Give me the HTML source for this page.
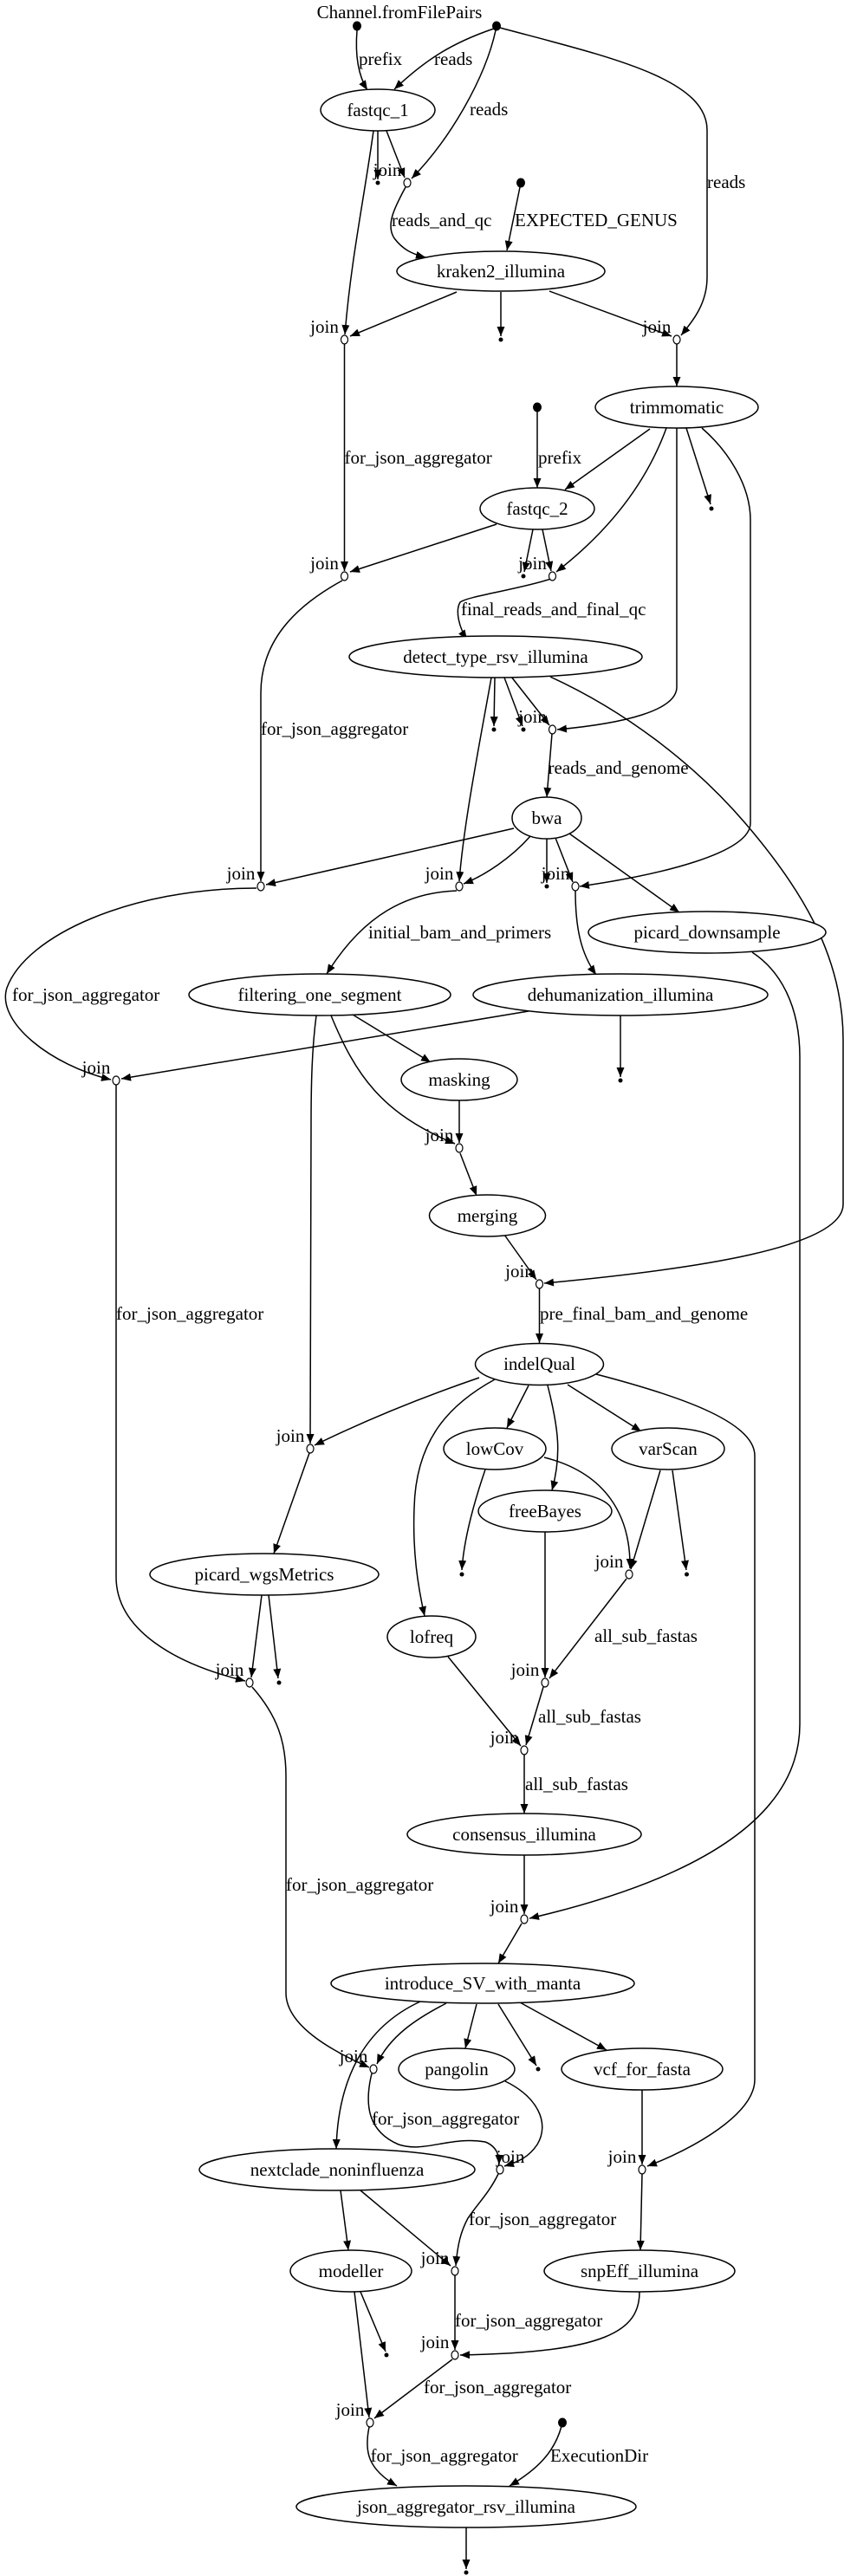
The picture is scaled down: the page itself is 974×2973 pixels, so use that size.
<!DOCTYPE html>
<html><head><meta charset="utf-8"><style>
html,body{margin:0;padding:0;background:#fff;}
svg{display:block;}
text{font-family:"Liberation Serif",serif;font-size:21px;fill:#000;}
.e{fill:none;stroke:#000;stroke-width:1.5;}
.n{fill:#fff;stroke:#000;stroke-width:1.5;}
.j{fill:#fff;stroke:#000;stroke-width:1.2;}
</style></head><body>
<svg width="974" height="2973" viewBox="0 0 974 2973" xmlns="http://www.w3.org/2000/svg">
<defs><marker id="a" markerWidth="12" markerHeight="10" refX="11" refY="5" orient="auto" markerUnits="userSpaceOnUse"><path d="M0,0.5 L11,5 L0,9.5 z" fill="#000"/></marker></defs>
<g class="e" marker-end="url(#a)">
<path d="M412,35 C410,60 412,85 424,104"/>
<path d="M570,33 C520,50 490,70 455,103"/>
<path d="M572,35 C560,90 520,160 475,206"/>
<path d="M577,32 C700,65 816,90 816,150 L816,320 C816,350 800,370 786,387"/>
<path d="M436,151 L436,207"/>
<path d="M446,151 L467,205"/>
<path d="M431,151 C420,230 405,300 398,386"/>
<path d="M468,216 C455,240 445,260 455,275 C465,288 475,293 491,297"/>
<path d="M600,216 L585,289"/>
<path d="M527,337 L404,388"/>
<path d="M578,337 L578,388"/>
<path d="M634,336 L775,388"/>
<path d="M781,397 L781,446"/>
<path d="M620,475 L620,563"/>
<path d="M750,495 L652,565"/>
<path d="M792,494 L820,582"/>
<path d="M769,494 C745,560 700,615 642,660"/>
<path d="M781,494 L781,793 C781,820 720,835 643,842"/>
<path d="M810,494 C840,520 866,560 866,600 L866,950 C866,985 760,1010 669,1023"/>
<path d="M573,605 L404,660"/>
<path d="M615,611 L605,660"/>
<path d="M626,611 L636,659"/>
<path d="M636,668 C600,680 540,688 531,695 C525,705 530,725 539,738"/>
<path d="M397.5,397 L397.5,659"/>
<path d="M395,670 C340,700 301,740 301,800 L301,1017"/>
<path d="M571,782 L570,838"/>
<path d="M582,782 L603,838"/>
<path d="M590,781 L634,837"/>
<path d="M567,782 C555,850 535,950 530,1017"/>
<path d="M635,781 C720,820 800,880 860,950 C920,1020 973,1100 973,1200 L973,1390 C973,1440 800,1465 628,1481"/>
<path d="M637,847 L631,920"/>
<path d="M593,956 L307,1021"/>
<path d="M612,965 C590,990 560,1010 535,1020"/>
<path d="M631,968 L631,1019"/>
<path d="M641,967 L661,1018"/>
<path d="M657,962 L784,1053"/>
<path d="M527,1028 C470,1030 420,1055 377,1124"/>
<path d="M664,1028 C664,1070 670,1100 688,1125"/>
<path d="M296,1025 C150,1025 30,1080 8,1140 C-5,1180 60,1230 128,1246"/>
<path d="M610,1167 L140,1245"/>
<path d="M716,1172 L716,1243"/>
<path d="M407,1171 L497,1226"/>
<path d="M382,1172 C410,1240 440,1285 525,1320"/>
<path d="M530,1270 L530,1319"/>
<path d="M365,1172 C360,1210 359,1250 359,1300 L358,1666"/>
<path d="M531,1331 L550,1380"/>
<path d="M582,1425 L619,1477"/>
<path d="M868,1099 C900,1120 923,1160 923,1220 L923,1990 C923,2100 800,2170 611,2214"/>
<path d="M622.5,1487 L622.5,1550"/>
<path d="M134,1252 L134,1820 C134,1880 200,1920 283,1940"/>
<path d="M553,1590 C480,1615 420,1640 363,1668"/>
<path d="M610,1599 L585,1648"/>
<path d="M632,1599 C645,1650 648,1680 637,1720"/>
<path d="M655,1598 L740,1652"/>
<path d="M571,1592 C520,1620 480,1660 478,1740 C476,1790 482,1830 490,1865"/>
<path d="M688,1586 C780,1610 871,1640 871,1680 L871,2400 C871,2440 800,2480 747,2500"/>
<path d="M560,1696 C545,1740 535,1780 533,1812"/>
<path d="M628,1682 C700,1700 728,1750 727,1810"/>
<path d="M762,1697 L728,1811"/>
<path d="M776,1697 L792,1812"/>
<path d="M629,1768 L629,1936"/>
<path d="M723,1822 L634,1937"/>
<path d="M302,1841 L290,1936"/>
<path d="M310,1841 L321,1937"/>
<path d="M357,1677 L316,1793"/>
<path d="M517,1912 L601,2015"/>
<path d="M627,1947 L607,2014"/>
<path d="M605,2025 L605,2093"/>
<path d="M605,2141 L605,2209"/>
<path d="M602,2220 L575,2266"/>
<path d="M291,1947 C320,1980 330,2010 330,2050 L330,2300 C330,2340 390,2370 426,2386"/>
<path d="M515,2312 C480,2330 450,2350 435,2382"/>
<path d="M485,2310 C420,2340 390,2400 388,2480"/>
<path d="M550,2313 L537,2364"/>
<path d="M575,2313 L619,2384"/>
<path d="M600,2311 L700,2366"/>
<path d="M429,2393 C420,2430 425,2460 460,2475 C490,2485 520,2465 560,2472 C575,2478 576,2490 576,2498"/>
<path d="M583,2402 C620,2420 635,2450 620,2475 C610,2490 598,2495 582,2500"/>
<path d="M741,2412 L741,2498"/>
<path d="M575,2509 C565,2530 550,2545 540,2560 C532,2575 528,2590 526,2615"/>
<path d="M393,2528 L402,2597"/>
<path d="M416,2528 L520,2615"/>
<path d="M741,2509 L739,2597"/>
<path d="M416,2645 L445,2714"/>
<path d="M409,2645 L426,2790"/>
<path d="M525,2626 L525,2712"/>
<path d="M738,2645 C738,2690 700,2715 531,2718"/>
<path d="M522,2723 L432,2791"/>
<path d="M426,2801 C420,2830 425,2850 458,2869"/>
<path d="M648,2800 C640,2830 620,2850 588,2869"/>
<path d="M538,2917 L538,2965"/>
</g>
<g class="n">
<ellipse cx="436" cy="127" rx="66" ry="24"/>
<ellipse cx="578" cy="313" rx="120" ry="23"/>
<ellipse cx="781" cy="470" rx="94" ry="24"/>
<ellipse cx="620" cy="587" rx="66" ry="24"/>
<ellipse cx="572" cy="758" rx="169" ry="24"/>
<ellipse cx="631" cy="944" rx="40" ry="24"/>
<ellipse cx="816" cy="1076" rx="137" ry="24"/>
<ellipse cx="369" cy="1148" rx="151" ry="24"/>
<ellipse cx="716" cy="1148" rx="170" ry="24"/>
<ellipse cx="530" cy="1246" rx="67" ry="24"/>
<ellipse cx="562.5" cy="1403" rx="67" ry="24"/>
<ellipse cx="622.5" cy="1574.5" rx="74" ry="24"/>
<ellipse cx="571" cy="1672" rx="59" ry="24"/>
<ellipse cx="771" cy="1672" rx="65" ry="24"/>
<ellipse cx="629" cy="1744" rx="77" ry="24"/>
<ellipse cx="305" cy="1817" rx="132" ry="24"/>
<ellipse cx="498" cy="1889" rx="51" ry="24"/>
<ellipse cx="605" cy="2117" rx="135" ry="24"/>
<ellipse cx="557" cy="2289" rx="175" ry="23"/>
<ellipse cx="527" cy="2388" rx="67" ry="24"/>
<ellipse cx="741" cy="2388" rx="93" ry="24"/>
<ellipse cx="389" cy="2504" rx="159" ry="24"/>
<ellipse cx="405" cy="2621" rx="70" ry="24"/>
<ellipse cx="738" cy="2621" rx="110" ry="24"/>
<ellipse cx="538" cy="2893" rx="196" ry="24"/>
</g>
<g class="j">
<ellipse cx="470" cy="211" rx="4" ry="5"/><ellipse cx="397.5" cy="392" rx="4" ry="5"/><ellipse cx="781" cy="392" rx="4" ry="5"/>
<ellipse cx="397.5" cy="665" rx="4" ry="5"/><ellipse cx="637.5" cy="665" rx="4" ry="5"/><ellipse cx="637.5" cy="842" rx="4" ry="5"/>
<ellipse cx="301" cy="1023" rx="4" ry="5"/><ellipse cx="530" cy="1023" rx="4" ry="5"/><ellipse cx="664" cy="1023" rx="4" ry="5"/>
<ellipse cx="134" cy="1247" rx="4" ry="5"/><ellipse cx="530" cy="1325" rx="4" ry="5"/><ellipse cx="622.5" cy="1482" rx="4" ry="5"/>
<ellipse cx="358" cy="1672" rx="4" ry="5"/><ellipse cx="726" cy="1817" rx="4" ry="5"/><ellipse cx="288" cy="1942" rx="4" ry="5"/>
<ellipse cx="629" cy="1942" rx="4" ry="5"/><ellipse cx="605" cy="2020" rx="4" ry="5"/><ellipse cx="605" cy="2215" rx="4" ry="5"/>
<ellipse cx="431" cy="2388" rx="4" ry="5"/><ellipse cx="577" cy="2504" rx="4" ry="5"/><ellipse cx="741" cy="2504" rx="4" ry="5"/>
<ellipse cx="525" cy="2621" rx="4" ry="5"/><ellipse cx="525" cy="2718" rx="4" ry="5"/><ellipse cx="427" cy="2796" rx="4" ry="5"/>
</g>
<g fill="#000">
<ellipse cx="412" cy="30" rx="5" ry="5.5"/><ellipse cx="573" cy="30" rx="5" ry="5.5"/><ellipse cx="601" cy="211" rx="5" ry="5.5"/><ellipse cx="620" cy="470" rx="5" ry="5.5"/><ellipse cx="649" cy="2796" rx="5" ry="5.5"/>
<circle cx="436" cy="211" r="2.5"/><circle cx="578" cy="392" r="2.5"/><circle cx="821" cy="587" r="2.5"/><circle cx="604" cy="665" r="2.5"/>
<circle cx="570" cy="842" r="2.5"/><circle cx="604" cy="842" r="2.5"/><circle cx="631" cy="1023" r="2.5"/><circle cx="716" cy="1247" r="2.5"/>
<circle cx="533" cy="1817" r="2.5"/><circle cx="792.5" cy="1817" r="2.5"/><circle cx="322" cy="1942" r="2.5"/><circle cx="621" cy="2388" r="2.5"/>
<circle cx="446" cy="2718" r="2.5"/><circle cx="538" cy="2969" r="2.5"/>
</g>
<g text-anchor="middle">
<text x="461" y="21">Channel.fromFilePairs</text>
<text x="436" y="134">fastqc_1</text>
<text x="578" y="320">kraken2_illumina</text>
<text x="781" y="477">trimmomatic</text>
<text x="620" y="594">fastqc_2</text>
<text x="572" y="765">detect_type_rsv_illumina</text>
<text x="631" y="951">bwa</text>
<text x="816" y="1083">picard_downsample</text>
<text x="369" y="1155">filtering_one_segment</text>
<text x="716" y="1155">dehumanization_illumina</text>
<text x="530" y="1253">masking</text>
<text x="562.5" y="1410">merging</text>
<text x="622.5" y="1581">indelQual</text>
<text x="571" y="1679">lowCov</text>
<text x="771" y="1679">varScan</text>
<text x="629" y="1751">freeBayes</text>
<text x="305" y="1824">picard_wgsMetrics</text>
<text x="498" y="1896">lofreq</text>
<text x="605" y="2124">consensus_illumina</text>
<text x="557" y="2296">introduce_SV_with_manta</text>
<text x="527" y="2395">pangolin</text>
<text x="741" y="2395">vcf_for_fasta</text>
<text x="389" y="2511">nextclade_noninfluenza</text>
<text x="405" y="2628">modeller</text>
<text x="738" y="2628">snpEff_illumina</text>
<text x="538" y="2900">json_aggregator_rsv_illumina</text>
<text x="447" y="203">join</text><text x="374.5" y="384">join</text><text x="758" y="384">join</text>
<text x="374.5" y="657">join</text><text x="614.5" y="657">join</text><text x="614.5" y="834">join</text>
<text x="278" y="1015">join</text><text x="507" y="1015">join</text><text x="641" y="1015">join</text>
<text x="111" y="1239">join</text><text x="507" y="1317">join</text><text x="599.5" y="1474">join</text>
<text x="335" y="1664">join</text><text x="703" y="1809">join</text><text x="265" y="1934">join</text>
<text x="606" y="1934">join</text><text x="582" y="2012">join</text><text x="582" y="2207">join</text>
<text x="408" y="2380">join</text><text x="589" y="2496">join</text><text x="718" y="2496">join</text>
<text x="502" y="2613">join</text><text x="502" y="2710">join</text><text x="404" y="2788">join</text>
</g>
<g>
<text x="414" y="75">prefix</text>
<text x="501" y="75">reads</text>
<text x="542" y="133">reads</text>
<text x="816" y="217">reads</text>
<text x="452" y="261">reads_and_qc</text>
<text x="594" y="261">EXPECTED_GENUS</text>
<text x="397.5" y="535">for_json_aggregator</text>
<text x="621" y="535">prefix</text>
<text x="532" y="710">final_reads_and_final_qc</text>
<text x="301" y="848">for_json_aggregator</text>
<text x="632.5" y="893">reads_and_genome</text>
<text x="425" y="1083">initial_bam_and_primers</text>
<text x="14" y="1155">for_json_aggregator</text>
<text x="134" y="1523">for_json_aggregator</text>
<text x="623" y="1523">pre_final_bam_and_genome</text>
<text x="686" y="1895">all_sub_fastas</text>
<text x="621" y="1988">all_sub_fastas</text>
<text x="606" y="2066">all_sub_fastas</text>
<text x="330" y="2182">for_json_aggregator</text>
<text x="429" y="2452">for_json_aggregator</text>
<text x="541" y="2568">for_json_aggregator</text>
<text x="525" y="2685">for_json_aggregator</text>
<text x="489" y="2762">for_json_aggregator</text>
<text x="427.5" y="2841">for_json_aggregator</text>
<text x="635" y="2841">ExecutionDir</text>
</g>
</svg>
</body></html>
